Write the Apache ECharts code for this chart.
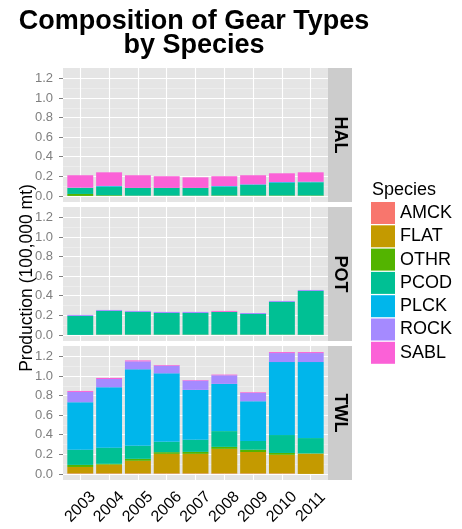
<!DOCTYPE html>
<html><head><meta charset="utf-8">
<script src="https://cdn.jsdelivr.net/npm/echarts@6/dist/echarts.min.js"></script>
<style>html,body{margin:0;padding:0;background:#fff}#c{width:462px;height:529px}</style>
</head><body><div id="c"></div>
<script>
// ---------- data ----------
const years = ['2003','2004','2005','2006','2007','2008','2009','2010','2011'];
const species = ['AMCK','FLAT','OTHR','PCOD','PLCK','ROCK','SABL'];
const gears = ['HAL','POT','TWL'];
const yTicks = [0, 0.2, 0.4, 0.6, 0.8, 1.0, 1.2];
const yMinorTicks = [0.1, 0.3, 0.5, 0.7, 0.9, 1.1];

// HAL (100,000 mt)
const halAMCK = [0, 0, 0, 0, 0, 0, 0, 0, 0];
const halFLAT = [0, 0, 0, 0, 0, 0, 0, 0, 0];
const halOTHR = [0.020, 0.007, 0.003, 0.003, 0.003, 0.005, 0.005, 0.005, 0.005];
const halPCOD = [0.062, 0.088, 0.079, 0.079, 0.079, 0.090, 0.107, 0.128, 0.134];
const halPLCK = [0, 0.007, 0, 0, 0, 0.006, 0.006, 0.008, 0.006];
const halROCK = [0.003, 0, 0, 0, 0, 0, 0, 0, 0];
const halSABL = [0.126, 0.139, 0.129, 0.119, 0.108, 0.100, 0.093, 0.090, 0.096];

// POT
const potAMCK = [0, 0, 0, 0, 0, 0, 0, 0, 0];
const potFLAT = [0, 0, 0, 0, 0, 0, 0, 0, 0];
const potOTHR = [0, 0.003, 0.003, 0.003, 0.003, 0.003, 0.003, 0.003, 0.003];
const potPCOD = [0.194, 0.242, 0.232, 0.221, 0.221, 0.232, 0.211, 0.334, 0.446];
const potPLCK = [0, 0, 0, 0, 0, 0, 0, 0, 0];
const potROCK = [0.010, 0.010, 0.010, 0.011, 0.011, 0, 0.010, 0.010, 0.010];
const potSABL = [0, 0, 0, 0, 0, 0.010, 0, 0, 0];

// TWL
const twlAMCK = [0.005, 0.005, 0.005, 0.005, 0.005, 0.005, 0.005, 0.005, 0];
const twlFLAT = [0.066, 0.090, 0.129, 0.200, 0.200, 0.251, 0.219, 0.190, 0.207];
const twlOTHR = [0.021, 0.008, 0.020, 0.017, 0.020, 0.020, 0.023, 0.019, 0.002];
const twlPCOD = [0.155, 0.165, 0.133, 0.106, 0.124, 0.161, 0.089, 0.183, 0.157];
const twlPLCK = [0.485, 0.617, 0.781, 0.699, 0.509, 0.482, 0.406, 0.745, 0.776];
const twlROCK = [0.105, 0.084, 0.081, 0.078, 0.095, 0.088, 0.085, 0.092, 0.092];
const twlSABL = [0.010, 0.011, 0.010, 0.007, 0.006, 0.007, 0.007, 0.010, 0.010];

const panelData = [
  [halAMCK, halFLAT, halOTHR, halPCOD, halPLCK, halROCK, halSABL],
  [potAMCK, potFLAT, potOTHR, potPCOD, potPLCK, potROCK, potSABL],
  [twlAMCK, twlFLAT, twlOTHR, twlPCOD, twlPLCK, twlROCK, twlSABL]
];

// ---------- style / layout ----------
const colors = ['#F8766D','#C49A00','#53B400','#00C094','#00B6EB','#A58AFF','#FB61D7'];
const FONT = '"Liberation Sans", Arial, Helvetica, sans-serif';
const panelLeft = 63, panelW = 265, panelH = 134;
const panelTops = [68, 207, 346];
const stripW = 24;
const barW = panelW / 9.2 * 0.9;
const xPos = years.map((_, j) => j + 1);

const grids = [], xAxes = [], yAxes = [], series = [], graphics = [];

gears.forEach((g, gi) => {
  grids.push({left: panelLeft, top: panelTops[gi], width: panelW, height: panelH,
    show: true, backgroundColor: '#E5E5E5', borderWidth: 0});
  const last = gi === gears.length - 1;
  xAxes.push({type: 'value', gridIndex: gi, min: 0.4, max: 9.6,
    axisLine: {show: false}, splitLine: {show: false},
    axisTick: {show: last, customValues: xPos, length: 4, lineStyle: {color: '#7f7f7f'}},
    axisLabel: {show: last, customValues: xPos, formatter: v => years[Math.round(v) - 1] || '',
      rotate: 45, align: 'center', verticalAlign: 'middle', margin: 27,
      fontSize: 16, color: '#000', fontFamily: FONT}});
  yAxes.push({type: 'value', gridIndex: gi, min: -0.062, max: 1.306,
    axisLine: {show: false}, splitLine: {show: false},
    axisTick: {show: true, customValues: yTicks, length: 4, lineStyle: {color: '#7f7f7f'}},
    axisLabel: {customValues: yTicks, formatter: v => v.toFixed(1), margin: 10,
      fontSize: 13, color: '#7f7f7f', fontFamily: FONT}});

  // grid lines (drawn through the axes' scales)
  const ml = [];
  yMinorTicks.forEach(v => ml.push({yAxis: v, lineStyle: {color: '#F2F2F2', width: 0.6, type: 'solid'}}));
  yTicks.forEach(v => ml.push({yAxis: v, lineStyle: {color: '#FFFFFF', width: 1.1, type: 'solid'}}));
  xPos.forEach(v => ml.push({xAxis: v, lineStyle: {color: '#FFFFFF', width: 1.1, type: 'solid'}}));
  series.push({type: 'line', xAxisIndex: gi, yAxisIndex: gi, data: [], silent: true,
    markLine: {silent: true, z: 1, symbol: 'none', animation: false, label: {show: false},
      emphasis: {disabled: true}, data: ml}});

  species.forEach((s, si) => {
    series.push({type: 'bar', name: s, stack: 'st' + gi, xAxisIndex: gi, yAxisIndex: gi,
      barWidth: barW, z: 2, itemStyle: {color: colors[si]},
      emphasis: {disabled: true},
      dimensions: ['value', 'pos'],
      encode: {x: 'pos', y: 'value'},
      data: panelData[gi][si].map((v, j) => [v, xPos[j]])});
  });

  // strip
  graphics.push({type: 'rect', x: panelLeft + panelW, y: panelTops[gi],
    shape: {width: stripW, height: panelH}, style: {fill: '#CCCCCC'}, silent: true});
  graphics.push({type: 'text', x: panelLeft + panelW + stripW / 2, y: panelTops[gi] + panelH / 2,
    rotation: -Math.PI / 2, silent: true,
    style: {text: g, fontSize: 18, fontWeight: 'bold', fontFamily: FONT, fill: '#000',
      textAlign: 'center', textVerticalAlign: 'middle', align: 'center', verticalAlign: 'middle'}});
});

// title
graphics.push({type: 'text', x: 194, y: 21.5, silent: true,
  style: {text: 'Composition of Gear Types', fontSize: 27, fontWeight: 'bold', fontFamily: FONT, fill: '#000',
    textAlign: 'center', textVerticalAlign: 'middle', align: 'center', verticalAlign: 'middle'}});
graphics.push({type: 'text', x: 194, y: 46, silent: true,
  style: {text: 'by Species', fontSize: 27, fontWeight: 'bold', fontFamily: FONT, fill: '#000',
    textAlign: 'center', textVerticalAlign: 'middle', align: 'center', verticalAlign: 'middle'}});
// y axis title
graphics.push({type: 'text', x: 27, y: 278, rotation: Math.PI / 2, silent: true,
  style: {text: 'Production (100,000 mt)', fontSize: 17.5, fontFamily: FONT, fill: '#000',
    textAlign: 'center', textVerticalAlign: 'middle', align: 'center', verticalAlign: 'middle'}});
// legend title
graphics.push({type: 'text', x: 372, y: 190, silent: true,
  style: {text: 'Species', fontSize: 18, fontFamily: FONT, fill: '#000',
    textAlign: 'left', textVerticalAlign: 'middle', align: 'left', verticalAlign: 'middle'}});

const chart = echarts.init(document.getElementById('c'), null, {renderer: 'canvas'});
chart.setOption({
  animation: false,
  backgroundColor: '#fff',
  grid: grids, xAxis: xAxes, yAxis: yAxes, series: series,
  legend: {data: species, orient: 'vertical', left: 371, top: 202, padding: 0,
    itemWidth: 24, itemHeight: 22, itemGap: 1.3, icon: 'rect', selectedMode: false,
    textStyle: {fontSize: 18, color: '#000', fontFamily: FONT}},
  graphic: {elements: graphics}
});
</script></body></html>
